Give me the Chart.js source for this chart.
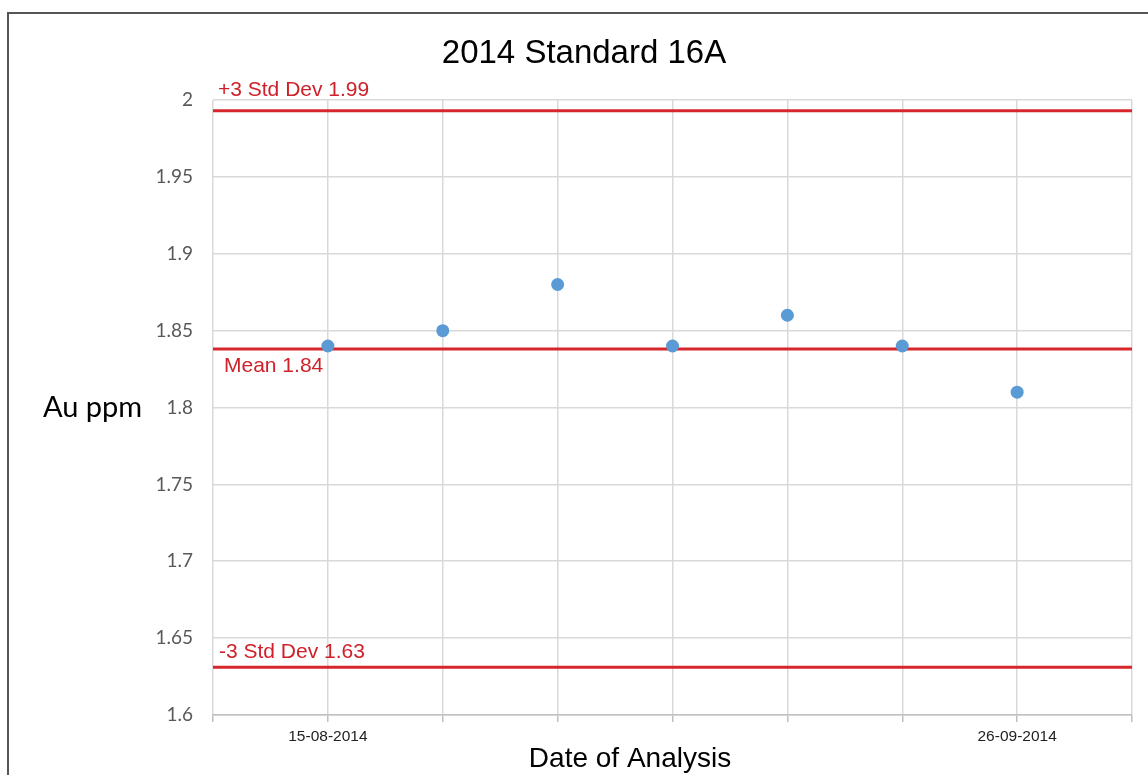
<!DOCTYPE html>
<html>
<head>
<meta charset="utf-8">
<script src="https://cdn.jsdelivr.net/npm/chart.js@4.4.1/dist/chart.umd.min.js"></script>
<style>
  html, body { margin: 0; padding: 0; background: #fff; overflow: hidden; }
  #wrap { position: relative; width: 1148px; height: 775px; }
  #frame { position: absolute; left: 7px; top: 12px; width: 1200px; height: 900px; border: 2px solid #555; box-sizing: border-box; pointer-events: none; }
  canvas { position: absolute; left: 0; top: 0; }
</style>
</head>
<body>
<div id="wrap">
  <canvas id="c" width="1148" height="775"></canvas>
  <div id="frame"></div>
</div>
<script>
const analysisDates = ['08-08-2014', '15-08-2014', '22-08-2014', '29-08-2014', '05-09-2014', '12-09-2014', '19-09-2014', '26-09-2014', '03-10-2014'];
const shownDateLabels = ['15-08-2014', '26-09-2014'];
const auValues = [null, 1.84, 1.85, 1.88, 1.84, 1.86, 1.84, 1.81, null];
const plus3StdDev = 1.993;
const meanValue = 1.838;
const minus3StdDev = 1.631;
const limitLabels = ['+3 Std Dev 1.99', 'Mean 1.84', '-3 Std Dev 1.63'];
const yTicks = { min: 1.6, max: 2.0, step: 0.05 };

const firstDate = analysisDates[0];
const lastDate = analysisDates[analysisDates.length - 1];
function limitLine(v) {
  return [{ x: firstDate, y: v }, { x: lastDate, y: v }];
}

const redLine = '#d8262d';
const redText = '#cf2129';

const textPlugin = {
  id: 'texts',
  afterDraw(chart) {
    const ctx = chart.ctx;
    const ys = chart.scales.y;
    const area = chart.chartArea;
    ctx.save();
    // Title
    ctx.fillStyle = '#000';
    ctx.font = '33px "Liberation Sans", Arial, sans-serif';
    ctx.textAlign = 'center';
    ctx.textBaseline = 'alphabetic';
    ctx.fillText('2014 Standard 16A', 584, 63);
    // X axis title
    ctx.font = '28px "Liberation Sans", Arial, sans-serif';
    ctx.fillText('Date of Analysis', 630, 767);
    // Y axis title (horizontal)
    ctx.textAlign = 'left';
    ctx.font = '29px Lato, "Open Sans", sans-serif';
    ctx.fillText('Au ppm', 43, 417);
    // Limit labels
    ctx.fillStyle = redText;
    ctx.font = '21px "Liberation Sans", Arial, sans-serif';
    ctx.fillText(limitLabels[0], area.left + 5, ys.getPixelForValue(plus3StdDev) - 15);
    ctx.fillText(limitLabels[1], area.left + 11, ys.getPixelForValue(meanValue) + 23);
    ctx.fillText(limitLabels[2], area.left + 6, ys.getPixelForValue(minus3StdDev) - 9);
    ctx.restore();
  }
};

new Chart(document.getElementById('c'), {
  type: 'line',
  data: {
    labels: analysisDates,
    datasets: [
      {
        label: '+3 Std Dev',
        data: limitLine(plus3StdDev),
        borderColor: redLine, borderWidth: 3, pointRadius: 0, fill: false, order: 2
      },
      {
        label: 'Mean',
        data: limitLine(meanValue),
        borderColor: redLine, borderWidth: 3, pointRadius: 0, fill: false, order: 2
      },
      {
        label: '-3 Std Dev',
        data: limitLine(minus3StdDev),
        borderColor: redLine, borderWidth: 3, pointRadius: 0, fill: false, order: 2
      },
      {
        label: 'Au ppm',
        data: auValues,
        showLine: false,
        pointRadius: 6.5,
        pointBackgroundColor: '#5b9bd5',
        pointBorderColor: '#5b9bd5',
        pointBorderWidth: 0,
        order: 1
      }
    ]
  },
  options: {
    responsive: false,
    animation: false,
    devicePixelRatio: 1,
    layout: { padding: { left: 0, top: 100, right: 16, bottom: 0 } },
    plugins: { legend: { display: false }, title: { display: false }, tooltip: { enabled: false } },
    scales: {
      x: {
        type: 'category',
        offset: false,
        grid: { color: '#d9d9d9', lineWidth: 1.5, drawTicks: true, tickLength: 7, tickColor: '#bfbfbf' },
        border: { display: true, color: '#bfbfbf', width: 1.5 },
        ticks: {
          autoSkip: false, maxRotation: 0, minRotation: 0, padding: 5,
          color: '#222',
          font: { family: '"Liberation Sans", Arial, sans-serif', size: 15.5 },
          callback: function (val) {
            const lab = this.getLabelForValue(val);
            return shownDateLabels.includes(lab) ? lab : '';
          }
        },
        afterFit(scale) { scale.height = 60; }
      },
      y: {
        min: yTicks.min, max: yTicks.max,
        grid: { color: '#d9d9d9', lineWidth: 1.5, drawTicks: false },
        border: { display: false },
        ticks: {
          stepSize: yTicks.step, padding: 20, color: '#595959',
          font: { family: 'Lato, "Open Sans", sans-serif', size: 19 },
          callback: (v) => String(Math.round(v * 100) / 100)
        },
        afterFit(scale) { scale.width = 213; }
      }
    }
  },
  plugins: [textPlugin]
});
</script>
</body>
</html>
